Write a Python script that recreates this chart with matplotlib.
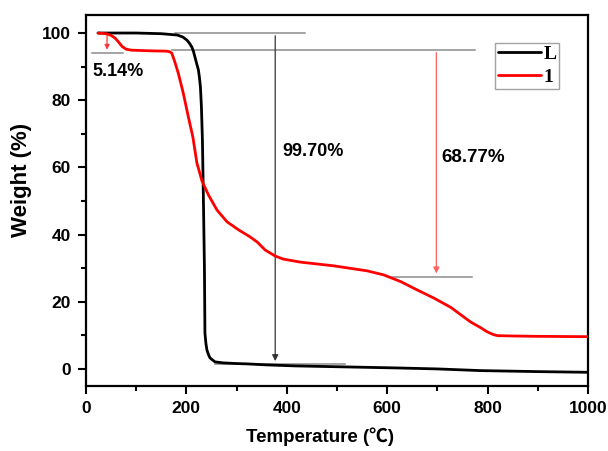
import matplotlib
matplotlib.use("Agg")
import matplotlib.pyplot as plt
from matplotlib.ticker import MultipleLocator

# Data
temp_L = [24, 100, 150, 182, 193, 201, 206, 211, 214, 217, 220, 224, 226, 228, 230, 232, 234, 236, 237, 239,
          241, 244, 247, 251, 257, 273, 300, 321, 360, 417, 517, 617, 700, 786, 900, 1000]
weight_L = [100, 100, 99.8, 99.4, 98.8, 97.9, 97.0, 95.8, 94.6, 92.9, 91.2, 89, 86.8, 84, 78, 68, 50, 30, 10.7, 7.5,
            5.6, 4.3, 3.3, 2.8, 2.1, 1.8, 1.6, 1.5, 1.2, 0.9, 0.6, 0.3, 0.0, -0.5, -0.8, -1.0]

temp_1 = [24, 40, 50, 58, 65, 72, 80, 90, 128, 161, 167, 171, 177, 184, 194, 204, 213, 221, 231, 244, 261,
          281, 304, 327, 341, 357, 377, 393, 427, 493, 560, 593, 627, 660, 693, 727, 766, 786, 800, 812,
          820, 852, 900, 1000]
weight_1 = [100, 99.8, 99.3, 98.5, 97.3, 96, 95.2, 94.9, 94.7, 94.6, 94.4, 94, 91.4, 88, 82, 75, 69, 61.3, 56, 51.8, 47.3,
            43.8, 41.4, 39.3, 37.8, 35.4, 33.6, 32.7, 31.8, 30.7, 29.2, 28, 26, 23.5, 21.1, 18.3, 14, 12.3, 11, 10.2,
            9.9, 9.8, 9.7, 9.6]

labels = ["L", "1"]
colors = ["black", "red"]

ann_loss = ["5.14%", "99.70%", "68.77%"]

plt.rcParams['font.family'] = ['Liberation Sans', 'Noto Sans CJK SC', 'DejaVu Sans']
plt.rcParams['font.weight'] = 'bold'

fig = plt.figure(figsize=(6.08, 4.51), dpi=100)
ax = fig.add_axes([0.1414, 0.144, 0.8256, 0.823])

ax.plot(temp_L, weight_L, color=colors[0], lw=2.0, label=labels[0], zorder=3,
        solid_joinstyle='round', solid_capstyle='round')
ax.plot(temp_1, weight_1, color=colors[1], lw=2.0, label=labels[1], zorder=3,
        solid_joinstyle='round', solid_capstyle='round')

gray = "#8c8c8c"
# guide lines
ax.plot([178, 437], [100, 100], color=gray, lw=1.1, zorder=2)
ax.plot([172, 776], [95, 95], color=gray, lw=1.1, zorder=2)
ax.plot([610, 770], [27.4, 27.4], color=gray, lw=1.1, zorder=2)
ax.plot([257, 517], [1.5, 1.5], color=gray, lw=1.1, zorder=2)
ax.plot([12, 74], [94.0, 94.0], color=gray, lw=1.1, zorder=2)

# arrows
ax.annotate("", xy=(377, 1.5), xytext=(377, 100),
            arrowprops=dict(arrowstyle="-|>", color="#333333", lw=0.9, mutation_scale=9), zorder=2)
ax.annotate("", xy=(698, 27.6), xytext=(698, 95),
            arrowprops=dict(arrowstyle="-|>", color="#ff6060", lw=0.9, mutation_scale=9), zorder=2)
ax.annotate("", xy=(42, 94.2), xytext=(42, 100),
            arrowprops=dict(arrowstyle="-|>", color="#ff3333", lw=0.9, mutation_scale=7), zorder=2)

ax.text(13, 88.4, ann_loss[0], fontsize=13, fontweight='bold', va='center', ha='left')
ax.text(392, 64.6, ann_loss[1], fontsize=13, fontweight='bold', va='center', ha='left')
ax.text(709, 63.0, ann_loss[2], fontsize=13.5, fontweight='bold', va='center', ha='left')

ax.set_xlim(0, 1000)
ax.set_ylim(-5.1, 105.4)
ax.xaxis.set_major_locator(MultipleLocator(200))
ax.xaxis.set_minor_locator(MultipleLocator(100))
ax.yaxis.set_major_locator(MultipleLocator(20))
ax.yaxis.set_minor_locator(MultipleLocator(10))
ax.tick_params(which='both', direction='out', width=1.5)
ax.tick_params(which='major', length=6, labelsize=12.5, pad=5)
ax.tick_params(which='minor', length=3.5)
for lab in ax.get_xticklabels() + ax.get_yticklabels():
    lab.set_fontweight('bold')
for s in ax.spines.values():
    s.set_linewidth(1.6)

ax.set_xlabel("Temperature (\u2103)", fontsize=13.5, fontweight='bold')
ax.xaxis.set_label_coords(0.467, -0.112)
ax.set_ylabel("Weight (%)", fontsize=16, fontweight='bold')
ax.yaxis.set_label_coords(-0.107, 0.555)

leg = ax.legend(loc='upper right', bbox_to_anchor=(0.943, 0.925), frameon=True, fancybox=False,
                edgecolor=gray, handlelength=2.2, handletextpad=0.12, borderpad=0.15,
                labelspacing=0.25, borderaxespad=0,
                prop={'family': 'Liberation Serif', 'weight': 'bold', 'size': 14})
leg.get_frame().set_linewidth(1.0)

fig.savefig("out.png", dpi=100)
